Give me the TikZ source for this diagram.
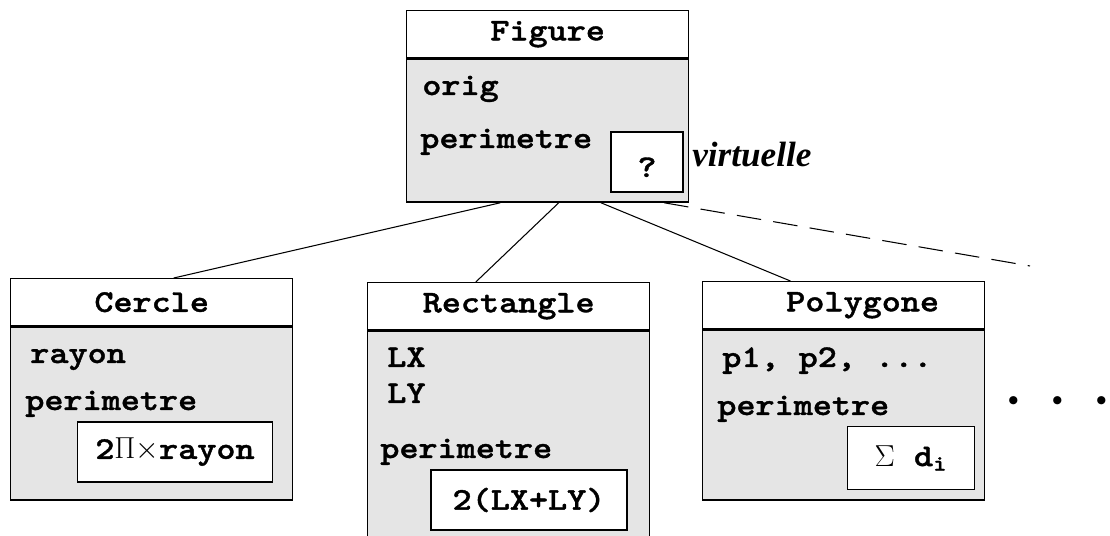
\documentclass[tikz,border=0pt]{standalone}
\usepackage{fontspec}
\newfontfamily\codefont{lmmonolt10-bold.otf}[FakeStretch=1.15, FakeBold=1.2]
\newfontfamily\virtfont{Liberation Serif}
\usepackage{xcolor}
\usetikzlibrary{calc}
\usetikzlibrary{positioning}
\definecolor{bodygray}{HTML}{E5E5E5}

\begin{document}
\begin{tikzpicture}[x=0.02cm, y=-0.02cm,
  classtitle/.style={rectangle, draw=black, fill=white, line width=0.8pt, minimum width=5.64cm, minimum height=0.94cm, inner sep=0pt, font=\codefont\fontsize{18}{20}\selectfont},
  classbody/.style={rectangle, draw=black, fill=bodygray, line width=0.8pt, minimum width=5.64cm, inner sep=0pt},
  member/.style={anchor=base west, inner sep=0pt, font=\codefont\fontsize{18}{20}\selectfont},
  methbox/.style={rectangle, draw=black, fill=white, line width=0.8pt, inner sep=0pt, font=\codefont\fontsize{18}{20}\selectfont},
  link/.style={draw=black, line width=0.6pt}]
\useasboundingbox (0,0) rectangle (1110,536);

% Figure (classe de base)
\node [classtitle, anchor=north west] (fig) at (406,10) {Figure};
\node [classbody, minimum height=2.86cm, anchor=north] (figbody) at (fig.south) {};
\node [member] (figorig) at (422,95) {orig};
\node [member] (figper) at (420,148) {perimetre};
\node [methbox, minimum width=1.44cm, minimum height=1.2cm] (figmeth) at (647,162) {\raisebox{-2.2ex}{?}};
\node [anchor=base west, inner sep=0pt, font=\virtfont\bfseries\itshape\fontsize{20}{22}\selectfont] (virt) at (692,167) {virtuelle};

% Cercle
\node [classtitle, anchor=north west] (cer) at (10,278) {Cercle};
\node [classbody, minimum height=3.46cm, anchor=north] (cerbody) at (cer.south) {};
\node [member] (cerray) at (30,363) {rayon};
\node [member] (cerper) at (25,410) {perimetre};
\node [methbox, minimum width=3.9cm, minimum height=1.2cm] (cermeth) at (175,452) {2$\Pi$$\times$rayon};

% Rectangle
\node [classtitle, anchor=north west] (rect) at (367,282) {Rectangle};
\node [classbody, minimum height=4.3cm, anchor=north] (rectbody) at (rect.south) {};
\node [member] (rectlx) at (387,367) {LX};
\node [member] (rectly) at (387,403) {LY};
\node [member] (rectper) at (380,458) {perimetre};
\node [methbox, minimum width=3.92cm, minimum height=1.2cm] (rectmeth) at (529,500) {2(LX+LY)};

% Polygone
\node [classtitle, anchor=north west] (poly) at (702,281) {\hspace{1.2em}Polygone};
\node [classbody, minimum height=3.4cm, anchor=north] (polybody) at (poly.south) {};
\node [member] (polypts) at (722,367) {p1, p2, ...};
\node [member] (polyper) at (717,415) {perimetre};
\node [methbox, minimum width=2.54cm, minimum height=1.26cm] (polymeth) at (911,458) {$\Sigma$ d\textsubscript{i}};
\node [inner sep=0pt, font=\fontsize{21}{21}\selectfont] (dots) at (1058,404) {\textbullet\hspace{10pt}\textbullet\hspace{10pt}\textbullet};

% liens d'heritage
\coordinate (suite) at (1030,266);
\draw [link] ($(figbody.south west)!0.333!(figbody.south east)$) -- ($(cer.north west)!0.578!(cer.north east)$);
\draw [link] ($(figbody.south west)!0.539!(figbody.south east)$) -- ($(rect.north west)!0.384!(rect.north east)$);
\draw [link] ($(figbody.south west)!0.688!(figbody.south east)$) -- ($(poly.north west)!0.312!(poly.north east)$);
\draw [link, dash pattern=on 14pt off 7pt] ($(figbody.south west)!0.911!(figbody.south east)$) -- (suite);
\end{tikzpicture}
\end{document}
